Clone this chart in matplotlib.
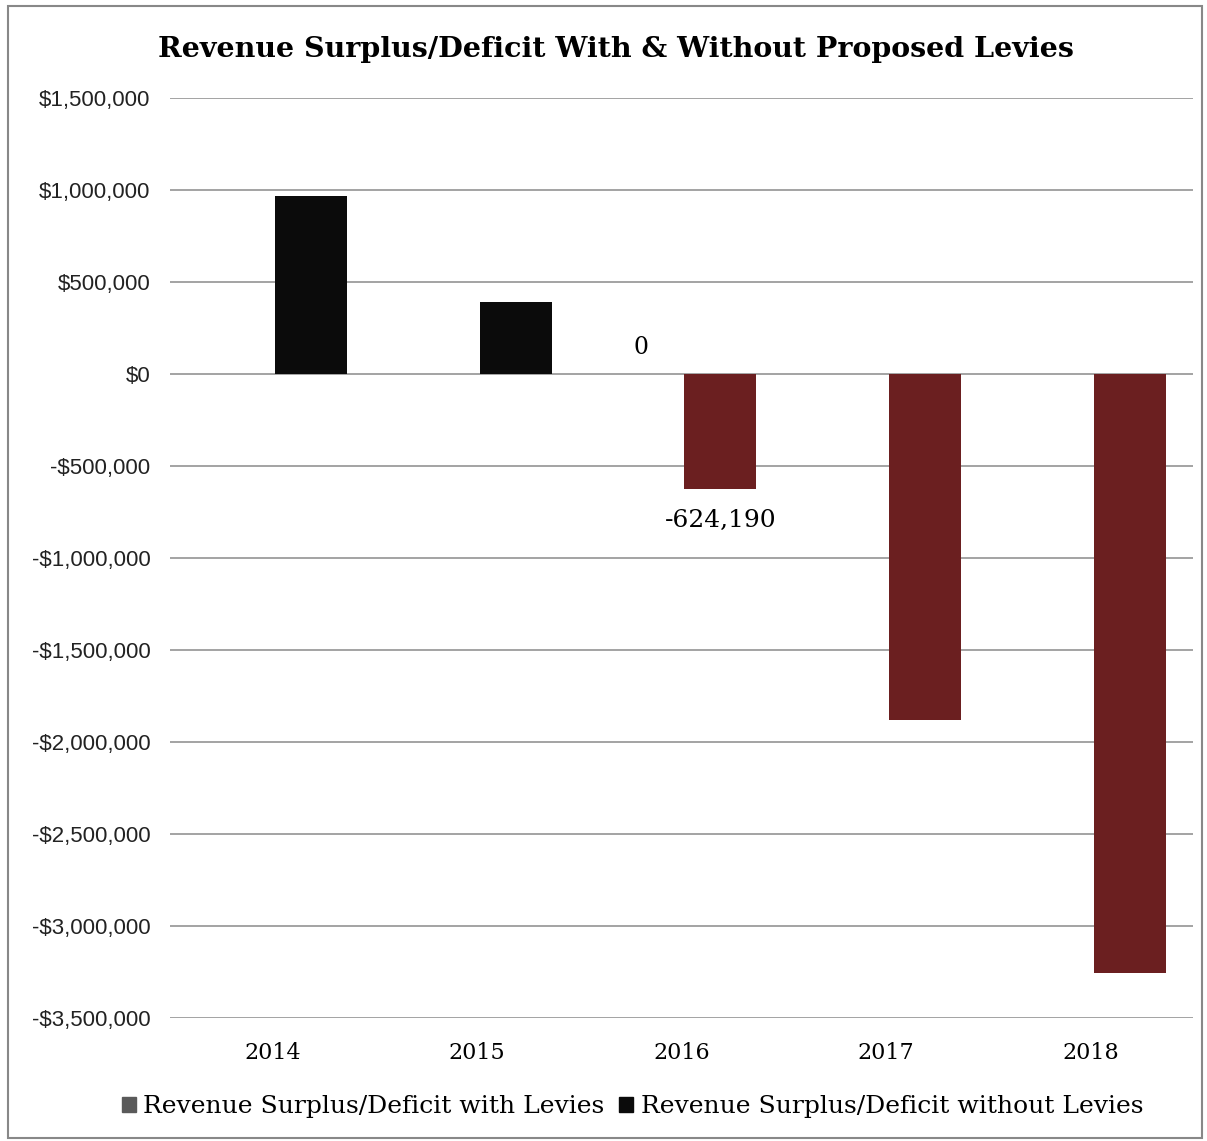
import matplotlib.pyplot as plt
import numpy as np
from matplotlib.patches import Rectangle
from matplotlib.ticker import FuncFormatter

years = ["2014", "2015", "2016", "2017", "2018"]
with_levies = [0, 0, 0, 0, 0]
without_levies = [967000, 391000, -624190, -1880000, -3255000]
without_colors = ["#0b0b0b", "#0b0b0b", "#6b1f20", "#6b1f20", "#6b1f20"]
with_color = "#5a5a5a"

serif = ["DejaVu Serif"]
sans = ["Liberation Sans", "DejaVu Sans"]


def money(v, pos):
    if v < 0:
        return "-${:,.0f}".format(-v)
    return "${:,.0f}".format(v)


fig = plt.figure(figsize=(12.07, 11.41), dpi=100)
ax = fig.add_axes([0.1408, 0.1078, 0.8476, 0.8063])

x = np.arange(len(years))
w = 0.352
off = 0.19
ax.bar(x - off, with_levies, w, color=with_color, zorder=3)
ax.bar(x + off, without_levies, w, color=without_colors, zorder=3)

# data labels shown only for 2016
ax.text(x[2] - off - 0.01, with_levies[2] + 80000, "{:,}".format(with_levies[2]),
        ha="center", va="bottom", fontsize=17, family=serif)
ax.text(x[2] + off, without_levies[2] - 110000, "{:,}".format(without_levies[2]),
        ha="center", va="top", fontsize=18, family=serif)

ax.set_xlim(-0.5, len(years) - 0.5)
ax.set_ylim(-3500000, 1500000)
ax.set_yticks(np.arange(-3500000, 1500001, 500000))
ax.yaxis.set_major_formatter(FuncFormatter(money))
ax.set_xticks(x)
ax.set_xticklabels(years, family=serif, fontsize=16)
for lab in ax.get_yticklabels():
    lab.set_family(sans)
    lab.set_fontsize(16)
    lab.set_color("#222222")
ax.tick_params(axis="x", length=0, pad=17)
ax.tick_params(axis="y", length=0, pad=14)
ax.grid(axis="y", color="#8a8a8a", linewidth=1.1, zorder=0)
for s in ax.spines.values():
    s.set_visible(False)

fig.text(0.510, 0.957, "Revenue Surplus/Deficit With & Without Proposed Levies",
         ha="center", va="center", fontsize=20.5, fontweight="bold", family=serif)

handles = [Rectangle((0, 0), 1, 1, color=with_color),
           Rectangle((0, 0), 1, 1, color="#0b0b0b")]
fig.legend(handles, ["Revenue Surplus/Deficit with Levies",
                     "Revenue Surplus/Deficit without Levies"],
           loc="center", bbox_to_anchor=(0.524, 0.030), ncol=2, frameon=False,
           prop={"family": serif, "size": 18}, handlelength=0.55, handleheight=0.55,
           handletextpad=0.3, columnspacing=0.6)

fig.patches.append(Rectangle((0.007, 0.003), 0.989, 0.992, transform=fig.transFigure,
                             fill=False, edgecolor="#888888", linewidth=1.5))

fig.savefig("out.png", dpi=100)
